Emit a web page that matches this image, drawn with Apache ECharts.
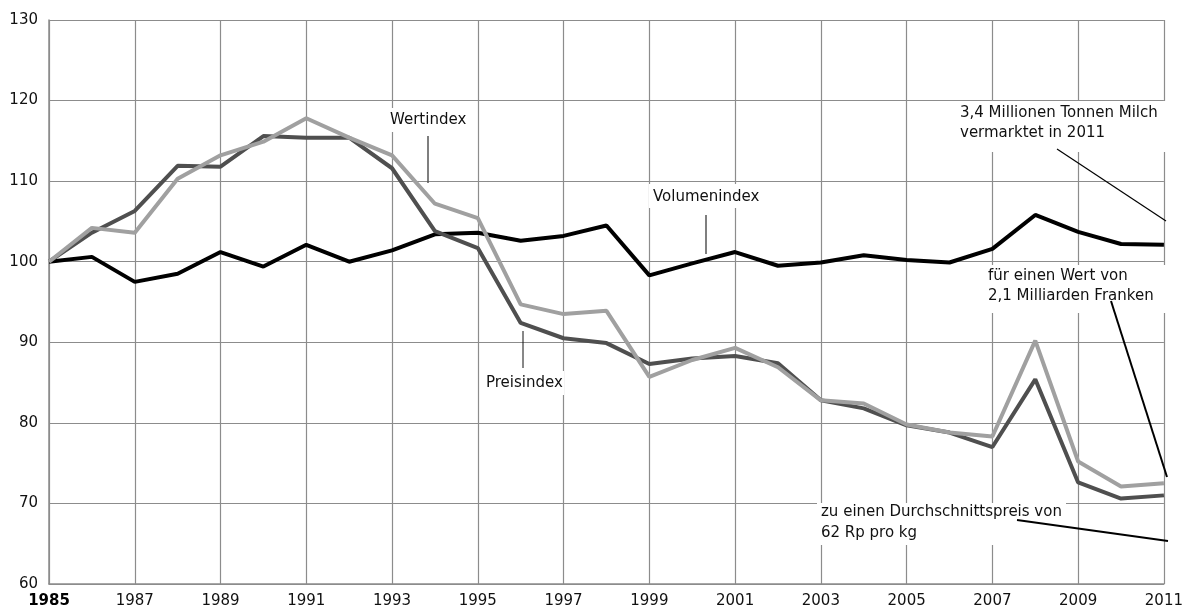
<!DOCTYPE html>
<html>
<head>
<meta charset="utf-8">
<title>Milch Indizes</title>
<script src="https://cdn.jsdelivr.net/npm/echarts@6/dist/echarts.min.js"></script>
</head>
<body style="margin:0">
	<div id="main" style="width: 1186px; height: 612px;"></div>

	<script type="text/javascript">
		// Jahre und Indexwerte (1985 = 100)
		var years = ['1985','1986','1987','1988','1989','1990','1991','1992','1993','1994','1995','1996','1997','1998','1999','2000','2001','2002','2003','2004','2005','2006','2007','2008','2009','2010','2011'];
		var volumenindex = [100, 100.6, 97.5, 98.5, 101.2, 99.4, 102.1, 100.0, 101.4, 103.4, 103.6, 102.6, 103.2, 104.5, 98.3, 99.8, 101.2, 99.5, 99.9, 100.8, 100.2, 99.9, 101.6, 105.8, 103.7, 102.2, 102.1];
		var preisindex = [100, 103.6, 106.3, 111.9, 111.8, 115.6, 115.4, 115.4, 111.6, 103.8, 101.7, 92.4, 90.5, 89.9, 87.3, 88.0, 88.3, 87.4, 82.8, 81.8, 79.7, 78.8, 77.0, 85.4, 72.6, 70.6, 71.0];
		var wertindex = [100, 104.2, 103.6, 110.3, 113.2, 114.9, 117.8, 115.4, 113.2, 107.2, 105.4, 94.7, 93.5, 93.9, 85.7, 87.8, 89.3, 86.9, 82.8, 82.4, 79.8, 78.8, 78.3, 90.2, 75.2, 72.1, 72.5];

		var myChart = echarts.init(document.getElementById('main'));

		var font = 'DejaVu Sans';
		var gridColor = '#8c8c8c';

		// weisse Kaesten hinter den Beschriftungen
		function box(x, y, w, h) {
			return { type: 'rect', z: 5, shape: { x: x, y: y, width: w, height: h }, style: { fill: '#fff' } };
		}
		function label(x, y, txt) {
			return { type: 'text', z: 6, x: x, y: y, style: { text: txt, font: '15px "' + font + '"', fill: '#111', textVerticalAlign: 'middle', lineHeight: 20 } };
		}
		function leader(x1, y1, x2, y2, color, w) {
			return { type: 'line', z: 6, shape: { x1: x1, y1: y1, x2: x2, y2: y2 }, style: { stroke: color, lineWidth: w } };
		}

		option = {
			animation: false,
			grid: { left: 49, right: 18, top: 20, bottom: 28, containLabel: false },
			xAxis: {
				type: 'category',
				boundaryGap: false,
				data: years,
				axisLine: { lineStyle: { color: gridColor, width: 1.5 } },
				axisTick: { show: false },
				axisLabel: {
					interval: 1,
					margin: 10,
					color: '#111',
					fontFamily: font,
					fontSize: 15,
					formatter: function (v) { return v === '1985' ? '{b|' + v + '}' : v; },
					rich: { b: { fontWeight: 'bold', fontFamily: font, fontSize: 15, color: '#000' } }
				},
				splitLine: { show: true, interval: 1, lineStyle: { color: gridColor, width: 1.2 } }
			},
			yAxis: {
				type: 'value',
				min: 60,
				max: 130,
				interval: 10,
				axisLine: { show: true, lineStyle: { color: gridColor, width: 1.5 } },
				axisTick: { show: false },
				axisLabel: { margin: 11, color: '#111', fontFamily: font, fontSize: 15 },
				splitLine: { lineStyle: { color: gridColor, width: 1.2 } }
			},
			series: [
				{ name: 'Volumenindex', type: 'line', data: volumenindex, symbol: 'none', z: 3, lineStyle: { color: '#000', width: 4 } },
				{ name: 'Preisindex', type: 'line', data: preisindex, symbol: 'none', z: 4, lineStyle: { color: '#4f4f4f', width: 4 } },
				{ name: 'Wertindex', type: 'line', data: wertindex, symbol: 'none', z: 5, lineStyle: { color: '#a0a0a0', width: 4 } }
			],
			graphic: [
				box(386, 108, 86, 24), label(390, 120, 'Wertindex'),
				leader(428, 136, 428, 183, '#555', 1.5),
				box(649, 184, 116, 24), label(653, 197, 'Volumenindex'),
				leader(706, 215, 706, 254, '#555', 1.5),
				box(482, 371, 82, 24), label(486, 383, 'Preisindex'),
				leader(523, 331, 523, 368, '#111', 1),
				box(955, 101, 212, 51), label(960, 113, '3,4 Millionen Tonnen Milch'), label(960, 133, 'vermarktet in 2011'),
				leader(1057, 149, 1166, 221, '#000', 1.2),
				box(984, 265, 183, 48), label(988, 276, 'für einen Wert von'), label(988, 296, '2,1 Milliarden Franken'),
				leader(1111, 301, 1167, 477, '#000', 2),
				box(817, 503, 249, 42), label(821, 512, 'zu einen Durchschnittspreis von'), label(821, 533, '62 Rp pro kg'),
				leader(1017, 520, 1168, 541, '#000', 2)
			]
		};

		myChart.setOption(option);
	</script>
</body>
</html>
